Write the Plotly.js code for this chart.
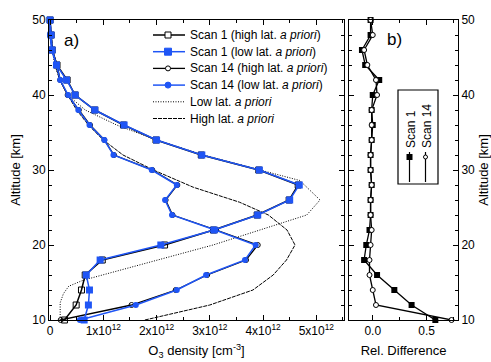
<!DOCTYPE html>
<html><head><meta charset="utf-8">
<script src="https://cdn.plot.ly/plotly-3.0.1.min.js"></script>
<style>html,body{margin:0;padding:0;background:#fff}#c{width:491px;height:362px}</style>
</head><body><div id="c"></div>
<script>
// Altitude grid [km]
const altitude = [10,12,14,16,18,20,22,24,26,28,30,32,34,36,38,40,42,44,46,48,50];
// O3 density in units of 1e12 cm^-3
const scan1High  = [0.27,0.49,0.59,0.66,0.98,2.15,3.07,3.89,4.49,4.66,3.92,2.84,1.99,1.38,0.84,0.47,0.32,0.13,0.04,0.02,0.0];
const scan1Low   = [0.64,0.72,0.74,0.68,0.94,2.08,3.08,3.90,4.50,4.68,3.93,2.85,2.00,1.39,0.84,0.47,0.31,0.12,0.04,0.02,0.0];
const scan14High = [0.20,1.53,2.36,2.95,3.68,3.90,3.12,2.30,2.17,2.39,1.92,1.20,1.02,0.75,0.54,0.33,0.19,0.13,0.04,0.0,0.0];
const scan14Low  = [0.56,1.61,2.38,2.93,3.66,3.86,3.10,2.29,2.16,2.38,1.91,1.19,1.02,0.74,0.53,0.34,0.19,0.12,0.03,0.0,0.0];
// a priori profiles
const lowAprAlt  = [10,12.3,13.5,14.5,15.3,20,24,24.9,26,28.6,30,32,34,36,38,40,42,44,46,48,50];
const lowAprX    = [0.19,0.19,0.25,0.35,0.62,3.06,4.82,4.93,5.07,4.69,3.95,2.88,2.0,1.25,0.66,0.33,0.18,0.09,0.04,0.01,0.0];
const highAprAlt = [10,12,14,16,18,20,22,24,25.7,27.7,30,32,34,36,38,40,42,44,46,48,50];
const highAprX   = [1.78,3.0,3.81,4.19,4.44,4.6,4.45,4.1,3.56,2.69,1.94,1.37,1.0,0.72,0.5,0.33,0.18,0.1,0.05,0.02,0.0];
// relative difference
const relScan1  = [0.58,0.36,0.2,0.04,-0.08,-0.06,-0.03,-0.02,-0.02,-0.01,-0.02,-0.02,-0.01,0.0,-0.01,0.0,0.06,-0.07,-0.1,-0.02,-0.02];
const relScan14 = [0.73,0.03,0.0,-0.03,-0.03,-0.02,-0.01,-0.02,-0.02,-0.01,-0.02,-0.02,-0.01,-0.01,-0.01,0.04,0.03,-0.05,-0.08,0.0,-0.02];
// ticks and labels
const densTickVals = [0,1,2,3,4,5];
const densTickText = ['0','1x10<sup>12</sup>','2x10<sup>12</sup>','3x10<sup>12</sup>','4x10<sup>12</sup>','5x10<sup>12</sup>'];
const legendNames = ['Scan 1 (high lat. <i>a priori</i>)','Scan 1 (low lat. <i>a priori</i>)','Scan 14 (high lat. <i>a priori</i>)','Scan 14 (low lat. <i>a priori</i>)','Low lat. <i>a priori</i>','High lat. <i>a priori</i>'];
const legendNamesB = ['Scan 1','Scan 14'];

const BLUE = '#1f55f5';
const FONT = 'Liberation Sans, Arial, sans-serif';
const DOT = '1px,1.5px';
const DASH = '4px,1px';

const traces = [
  {x: highAprX, y: highAprAlt, name: legendNames[5], mode:'lines', line:{color:'#000', width:1, dash:DASH}},
  {x: lowAprX, y: lowAprAlt, name: legendNames[4], mode:'lines', line:{color:'#000', width:1, dash:DOT}},
  {x: scan14High, y: altitude, name: legendNames[2], mode:'lines+markers', line:{color:'#000', width:1.3}, marker:{symbol:'circle-open', size:5, color:'#000', line:{width:1}}, cliponaxis:false},
  {x: scan1High, y: altitude, name: legendNames[0], mode:'lines+markers', line:{color:'#000', width:1.5}, marker:{symbol:'square-open', size:6, color:'#000', line:{width:1}}, cliponaxis:false},
  {x: scan14Low, y: altitude, name: legendNames[3], mode:'lines+markers', line:{color:BLUE, width:1.5}, marker:{symbol:'circle', size:6, color:BLUE}, cliponaxis:false},
  {x: scan1Low, y: altitude, name: legendNames[1], mode:'lines+markers', line:{color:BLUE, width:1.5}, marker:{symbol:'square', size:7, color:BLUE}, cliponaxis:false},
  {x: relScan1, y: altitude, name: legendNamesB[0], mode:'lines+markers', xaxis:'x2', yaxis:'y2', line:{color:'#000', width:1.3}, marker:{symbol:'square', size:6, color:'#000'}, cliponaxis:false},
  {x: relScan14, y: altitude, name: legendNamesB[1], mode:'lines+markers', xaxis:'x2', yaxis:'y2', line:{color:'#000', width:1.3}, marker:{symbol:'circle', size:5, color:'#fff', line:{color:'#000', width:1}}, cliponaxis:false}
];

const L = 49, R = 458, T = 20, B = 320;
const px = v => (v - L) / (R - L);
const py = v => (B - v) / (B - T);

const axCommon = {showline:true, linecolor:'#000', linewidth:1, mirror:'ticks', ticks:'inside', ticklen:5, tickcolor:'#000', showgrid:false, zeroline:false, tickfont:{size:12, color:'#000', family:FONT}};

// hand-drawn legend (panel a) : line samples, marker glyphs and labels
const legRowY = [35, 51.7, 68.4, 85.1, 101.8, 118.5];
const legStyles = [
  {color:'#000', width:1.5, dash:'solid', m:{type:'rect', r:3, fill:'#fff', lc:'#000'}},
  {color:BLUE, width:1.5, dash:'solid', m:{type:'rect', r:3.5, fill:BLUE, lc:BLUE}},
  {color:'#000', width:1.3, dash:'solid', m:{type:'circle', r:2.5, fill:'#fff', lc:'#000'}},
  {color:BLUE, width:1.5, dash:'solid', m:{type:'circle', r:3, fill:BLUE, lc:BLUE}},
  {color:'#000', width:1, dash:DOT, m:null},
  {color:'#000', width:1, dash:DASH, m:null}
];
const shapes = [];
const annotations = [];
legendNames.forEach((name, i) => {
  const y = legRowY[i], s = legStyles[i];
  shapes.push({type:'line', xref:'paper', yref:'paper', x0:px(153), x1:px(185), y0:py(y), y1:py(y), line:{color:s.color, width:s.width, dash:s.dash}});
  if (s.m) shapes.push({type:s.m.type, xref:'paper', yref:'paper', x0:px(168-s.m.r), x1:px(168+s.m.r), y0:py(y+s.m.r), y1:py(y-s.m.r), line:{color:s.m.lc, width:1}, fillcolor:s.m.fill});
  annotations.push({xref:'paper', yref:'paper', x:px(188), y:py(y), xanchor:'left', yanchor:'middle', text:name, showarrow:false, font:{size:12, family:FONT}});
});
// legend box panel b
shapes.push(
  {type:'rect', xref:'paper', yref:'paper', x0:px(398), x1:px(438), y0:py(90), y1:py(184), line:{color:'#000', width:1.2}, fillcolor:'#fff'},
  {type:'line', xref:'paper', yref:'paper', x0:px(409.5), x1:px(409.5), y0:py(152), y1:py(182), line:{color:'#000', width:1.2}},
  {type:'line', xref:'paper', yref:'paper', x0:px(425.5), x1:px(425.5), y0:py(152), y1:py(182), line:{color:'#000', width:1.2}},
  {type:'rect', xref:'paper', yref:'paper', x0:px(406.5), x1:px(412.5), y0:py(154), y1:py(160), line:{color:'#000', width:0}, fillcolor:'#000'},
  {type:'circle', xref:'paper', yref:'paper', x0:px(423.5), x1:px(427.5), y0:py(155), y1:py(159), line:{color:'#000', width:1}, fillcolor:'#fff'}
);
annotations.push(
  {xref:'paper', yref:'paper', x:px(411), y:py(150), xanchor:'center', yanchor:'bottom', text:legendNamesB[0], textangle:-90, showarrow:false, font:{size:12, family:FONT}},
  {xref:'paper', yref:'paper', x:px(427), y:py(150), xanchor:'center', yanchor:'bottom', text:legendNamesB[1], textangle:-90, showarrow:false, font:{size:12, family:FONT}},
  {xref:'paper', yref:'paper', x:px(62), y:py(40), xanchor:'left', yanchor:'middle', text:'a)', showarrow:false, font:{size:17, family:FONT}},
  {xref:'paper', yref:'paper', x:px(385), y:py(39), xanchor:'left', yanchor:'middle', text:'b)', showarrow:false, font:{size:17, family:FONT}}
);

const layout = {
  width:491, height:362,
  margin:{l:L, r:491-R, t:T, b:362-B, pad:0},
  paper_bgcolor:'#fff', plot_bgcolor:'#fff',
  font:{family:FONT, color:'#000', size:12},
  showlegend:false,
  xaxis: Object.assign({}, axCommon, {domain:[0, px(344)], range:[-0.02, 5.52], tickvals:densTickVals, ticktext:densTickText, minor:{dtick:0.5, ticklen:3, ticks:'inside', tickcolor:'#000'}, title:{text:'O<sub>3</sub> density [cm<sup>-3</sup>]', font:{size:13, family:FONT}, standoff:8}, anchor:'y'}),
  yaxis: Object.assign({}, axCommon, {domain:[0,1], range:[10,50], dtick:10, minor:{dtick:2, ticklen:3, ticks:'inside', tickcolor:'#000'}, title:{text:'Altitude [km]', font:{size:13, family:FONT}, standoff:8}, anchor:'x'}),
  xaxis2: Object.assign({}, axCommon, {domain:[px(349), 1], range:[-0.22, 0.79], tickvals:[0,0.5], ticktext:['0.0','0.5'], minor:{dtick:0.25, ticklen:3, ticks:'inside', tickcolor:'#000'}, title:{text:'Rel. Difference', font:{size:13, family:FONT}, standoff:8}, anchor:'y2'}),
  yaxis2: Object.assign({}, axCommon, {domain:[0,1], range:[10,50], dtick:10, side:'right', minor:{dtick:2, ticklen:3, ticks:'inside', tickcolor:'#000'}, title:{text:'Altitude [km]', font:{size:13, family:FONT}, standoff:10}, anchor:'x2'}),
  annotations: annotations,
  shapes: shapes
};

Plotly.newPlot('c', traces, layout, {displayModeBar:false, staticPlot:true});
</script></body></html>
